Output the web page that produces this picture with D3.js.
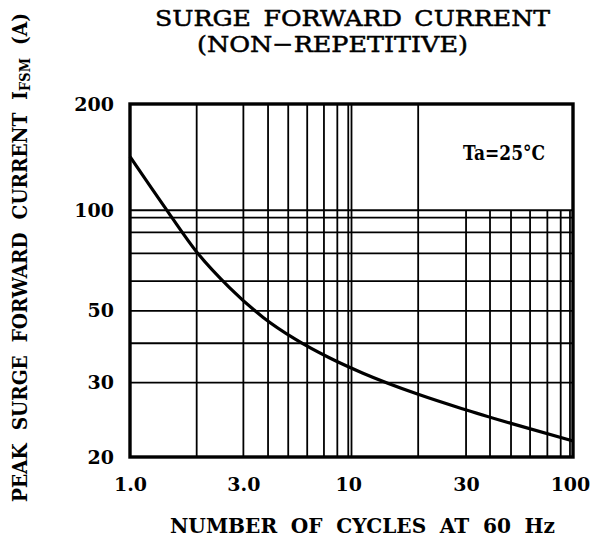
<!DOCTYPE html>
<html>
<head>
<meta charset="utf-8">
<script src="https://cdn.jsdelivr.net/npm/d3@7"></script>
<style>
  body { margin: 0; background: #fff; }
  text { font-family: "DejaVu Serif", serif; fill: #000; }
</style>
</head>
<body>
<div id="chart"></div>
<script>
// Curve: number of cycles vs peak surge current (A)
const cycles  = [1, 1.5, 2, 2.82, 3.98, 5.62, 7.94, 11.2, 20, 31.6, 52.5, 100];
const current = [141.8, 98, 76.2, 60.3, 49.8, 43.0, 38.2, 34.6, 30.1, 27.4, 24.9, 22.2];

// Grid lines where they sit on the sheet (not exactly on log positions)
const xGridFull  = [2, 3.25, 4.2, 5.18, 6.31, 7.51, 8.63, 9.67, 10, 20];
const xGridLower = [32.9, 42.2, 52.5, 64, 76.6, 88, 96.9];
const yGrid      = [100, 95.3, 86.6, 75.5, 63, 51.9, 42, 32.5];

// Tick labels
const xTickValues = [1, 3.25, 9.67, 32.9, 96.9];
const xTickLabels = ["1.0", "3.0", "10", "30", "100"];
const yTickValues = [200, 100, 51.9, 32.5, 20];
const yTickLabels = ["200", "100", "50", "30", "20"];

const margin = { top: 104, right: 23, bottom: 96, left: 130 },
      width = 596 - margin.left - margin.right,
      height = 553 - margin.top - margin.bottom;

const root = d3.select("#chart")
    .append("svg")
    .attr("width", 596)
    .attr("height", 553);

const svg = root.append("g")
    .attr("transform", `translate(${margin.left},${margin.top})`);

// Log scales
const x = d3.scaleLog().domain([1, 100]).range([0, width]);
const y = d3.scaleLog().domain([20, 200]).range([height, 0]);

// Horizontal grid (full width, 20..100 only)
svg.selectAll(".hgrid")
    .data(yGrid)
    .enter().append("line")
    .attr("x1", 0).attr("x2", width)
    .attr("y1", d => y(d)).attr("y2", d => y(d))
    .attr("stroke", "#000").attr("stroke-width", 1.8);

// Vertical grid: first decade + 20 run full height
svg.selectAll(".vgrid")
    .data(xGridFull)
    .enter().append("line")
    .attr("x1", d => x(d)).attr("x2", d => x(d))
    .attr("y1", 0).attr("y2", height)
    .attr("stroke", "#000").attr("stroke-width", 1.8);

// 30..90 only run from 100 down
svg.selectAll(".vgrid2")
    .data(xGridLower)
    .enter().append("line")
    .attr("x1", d => x(d)).attr("x2", d => x(d))
    .attr("y1", y(100)).attr("y2", height)
    .attr("stroke", "#000").attr("stroke-width", 1.8);

// Frame
svg.append("rect")
    .attr("width", width).attr("height", height)
    .attr("fill", "none").attr("stroke", "#000").attr("stroke-width", 3.4);

// Curve
const pts = cycles.map((c, i) => [c, current[i]]);
svg.append("path")
    .datum(pts)
    .attr("fill", "none")
    .attr("stroke", "#000")
    .attr("stroke-width", 3.2)
    .attr("d", d3.line().x(d => x(d[0])).y(d => y(d[1])).curve(d3.curveMonotoneX));

// Axes (labels only)
const xAxis = svg.append("g")
    .attr("transform", `translate(0,${height})`)
    .call(d3.axisBottom(x).tickValues(xTickValues)
        .tickFormat((d, i) => xTickLabels[i]).tickSize(0).tickPadding(21));

const yAxis = svg.append("g")
    .call(d3.axisLeft(y).tickValues(yTickValues)
        .tickFormat((d, i) => yTickLabels[i]).tickSize(0).tickPadding(16));

[xAxis, yAxis].forEach(g => {
    g.select(".domain").remove();
    g.selectAll("text")
        .attr("fill", "#000")
        .style("font-family", "'DejaVu Serif', serif")
        .style("font-weight", "bold")
        .style("font-size", "19px");
});

// Ta note
svg.append("text")
    .attr("x", 463 - margin.left)
    .attr("y", 160 - margin.top)
    .attr("textLength", 82)
    .attr("lengthAdjust", "spacingAndGlyphs")
    .style("font-weight", "bold")
    .style("font-size", "20px")
    .text("Ta=25°C");

// Titles
root.append("text")
    .attr("x", 155).attr("y", 26)
    .attr("textLength", 395)
    .attr("lengthAdjust", "spacingAndGlyphs")
    .attr("stroke", "#000").attr("stroke-width", 0.5)
    .style("font-size", "22.5px")
    .style("word-spacing", "4px")
    .text("SURGE FORWARD CURRENT");

root.append("text")
    .attr("x", 197).attr("y", 52)
    .attr("textLength", 271)
    .attr("lengthAdjust", "spacingAndGlyphs")
    .attr("stroke", "#000").attr("stroke-width", 0.5)
    .style("font-size", "22.5px")
    .text("(NON\u2212REPETITIVE)");

root.append("text")
    .attr("x", 170).attr("y", 533)
    .attr("textLength", 385)
    .attr("lengthAdjust", "spacingAndGlyphs")
    .style("font-weight", "bold")
    .style("font-size", "21px")
    .style("word-spacing", "7px")
    .text("NUMBER OF CYCLES AT 60 Hz");

const yTitle = root.append("text")
    .attr("transform", "rotate(-90)")
    .attr("x", -502).attr("y", 27)
    .attr("textLength", 489)
    .attr("lengthAdjust", "spacingAndGlyphs")
    .style("font-weight", "bold")
    .style("font-size", "20px")
    .style("word-spacing", "7px");
yTitle.append("tspan").text("PEAK SURGE FORWARD CURRENT I");
yTitle.append("tspan").attr("dy", 3).style("font-size", "14px").text("FSM");
yTitle.append("tspan").attr("dy", -3).text(" (A)");
</script>
</body>
</html>
